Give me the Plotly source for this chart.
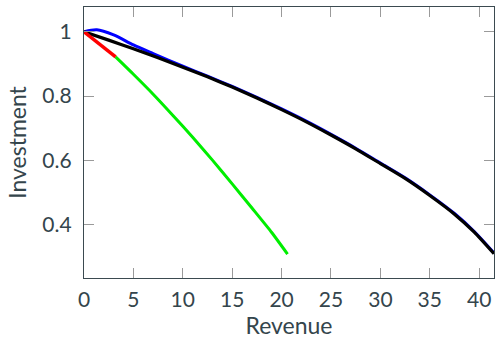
import plotly.graph_objects as go

# Reference path (black) and its perturbed companion (blue)
revenue_main = [0, 2.5, 5, 7.5, 10, 12.5, 15, 17.5, 20, 22.5, 25, 27.5, 30, 32.5, 35, 37.5, 39.5, 41.5]
invest_main = [1.0, 0.974, 0.947, 0.919, 0.890, 0.860, 0.828, 0.794, 0.758, 0.720, 0.679, 0.636, 0.590, 0.544, 0.491, 0.433, 0.377, 0.31]

revenue_alt = [0, 1.3, 3, 5, 7, 10, 12.5, 15, 17.5, 20, 22.5, 25, 27.5, 30, 32.5, 35, 37.5, 39.5, 41.5]
invest_alt = [1.0, 1.006, 0.99, 0.959, 0.932, 0.893, 0.862, 0.830, 0.796, 0.760, 0.722, 0.681, 0.638, 0.592, 0.546, 0.493, 0.435, 0.379, 0.312]

# Steeper branch (green) and its initial segment (red)
revenue_steep = [3.2, 5, 7, 9, 11, 13, 15, 17, 19, 20.6]
invest_steep = [0.922, 0.868, 0.806, 0.740, 0.672, 0.601, 0.527, 0.452, 0.376, 0.309]

revenue_start = [0, 1, 2, 3.2]
invest_start = [1.0, 0.976, 0.951, 0.922]

x_ticks = [0, 5, 10, 15, 20, 25, 30, 35, 40]
y_ticks = [0.4, 0.6, 0.8, 1.0]
y_tick_text = ["0.4", "0.6", "0.8", "1"]

fig = go.Figure()
fig.add_trace(go.Scatter(x=revenue_alt, y=invest_alt, mode="lines",
                         line=dict(color="#0000ff", width=3, shape="spline", smoothing=0.8)))
fig.add_trace(go.Scatter(x=revenue_main, y=invest_main, mode="lines",
                         line=dict(color="#000000", width=3.2, shape="spline", smoothing=0.6)))
fig.add_trace(go.Scatter(x=revenue_steep, y=invest_steep, mode="lines",
                         line=dict(color="#00ee00", width=3, shape="spline", smoothing=0.6)))
fig.add_trace(go.Scatter(x=revenue_start, y=invest_start, mode="lines",
                         line=dict(color="#ff0000", width=3.5)))

axis_color = "#3b4a50"
text_color = "#34454c"
common = dict(showline=True, linecolor=axis_color, linewidth=1.3, mirror="ticks",
              ticks="inside", ticklen=10, tickcolor="#9a9a9a", tickwidth=1,
              showgrid=False, zeroline=False,
              tickfont=dict(family="Lato", size=21, color=text_color))

fig.update_xaxes(range=[0, 41.5], tickvals=x_ticks, ticklabelstandoff=3,
                 title=dict(text="Revenue", font=dict(family="Lato", size=23, color=text_color), standoff=10),
                 **common)
fig.update_yaxes(range=[0.2345, 1.077], tickvals=y_ticks, ticktext=y_tick_text, ticklabelstandoff=7,
                 title=dict(text="Investment", font=dict(family="Lato", size=23, color=text_color), standoff=9),
                 **common)

fig.update_layout(width=495, height=339, showlegend=False,
                  margin=dict(l=84, r=1, t=7, b=61),
                  plot_bgcolor="white", paper_bgcolor="white")

fig.write_html("out.html")
